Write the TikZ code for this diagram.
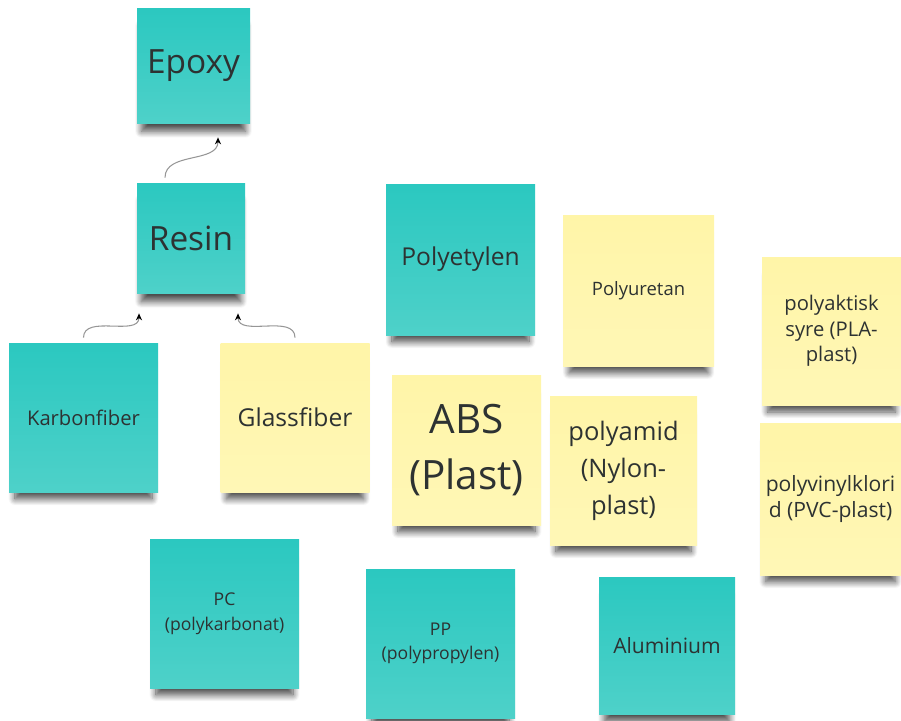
\documentclass[tikz,border=0pt]{standalone}
\usepackage{fontspec}
\setmainfont{Open Sans}
\usetikzlibrary{arrows.meta, positioning, shadows.blur}
\definecolor{noteteal}{RGB}{43,200,192}
\definecolor{notetealbot}{RGB}{78,209,201}
\definecolor{noteyellow}{RGB}{255,245,168}
\definecolor{noteyellowbot}{RGB}{255,247,182}
\definecolor{notetext}{RGB}{45,50,50}
\definecolor{linkgray}{RGB}{150,150,150}

\begin{document}
\begin{tikzpicture}[
    >=Stealth,
    note/.style={minimum width=2.98cm, minimum height=2.98cm, inner sep=2pt,
        align=center, text=notetext,
        blur shadow={shadow xshift=0pt, shadow yshift=-8pt, shadow scale=0.92,
            shadow blur radius=4pt, shadow opacity=70, shadow blur steps=12}},
    tealnote/.style={note, top color=noteteal, bottom color=notetealbot},
    yellownote/.style={note, top color=noteyellow, bottom color=noteyellowbot},
    link/.style={draw=linkgray, line width=0.6pt,
        -{Stealth[length=4pt, width=3.5pt, color=black]}}
]

% ============================================================
% Page frame
% ============================================================
\useasboundingbox (0,0) rectangle (18.02,-14.4);

% ============================================================
% Resin branch
% ============================================================
\node[tealnote, minimum width=2.26cm, minimum height=2.30cm,
      font=\fontsize{19}{24}\selectfont] (epoxy) at (3.87,-1.31) {Epoxy};
\node[tealnote, minimum width=2.16cm, minimum height=2.20cm,
      font=\fontsize{19}{24}\selectfont] (resin) at (3.82,-4.76) {Resin};
\node[tealnote, font=\fontsize{11.5}{15}\selectfont] (karbon) at (1.67,-8.35) {Karbonfiber};
\node[yellownote, font=\fontsize{14}{18}\selectfont] (glass) at (5.90,-8.35) {Glassfiber};

% Links
\draw[link] ([xshift=-0.52cm, yshift=0.10cm]resin.north)
    to[out=90, in=-90] ([xshift=0.49cm, yshift=-0.28cm]epoxy.south);
\draw[link] ([yshift=0.10cm]karbon.north)
    to[out=90, in=-90] ([xshift=-1.04cm, yshift=-0.40cm]resin.south);
\draw[link] ([yshift=0.10cm]glass.north)
    to[out=90, in=-90] ([xshift=0.94cm, yshift=-0.40cm]resin.south);

% ============================================================
% Plastics
% ============================================================
\node[tealnote, minimum height=3.02cm, font=\fontsize{14}{18}\selectfont]
    (polyetylen) at (9.21,-5.19) {Polyetylen};
\node[yellownote, minimum width=3.02cm, minimum height=3.02cm,
      font=\fontsize{10.5}{14}\selectfont] (polyuretan) at (12.77,-5.81) {Polyuretan};
\node[yellownote, minimum width=2.78cm, minimum height=2.96cm,
      font=\fontsize{11.5}{14.5}\selectfont] (pla) at (16.63,-6.62)
    {polyaktisk\\syre (PLA-\\plast)};
\node[yellownote, minimum width=2.82cm, minimum height=3.04cm,
      font=\fontsize{12}{14.8}\selectfont] (pvc) at (16.61,-9.98)
    {polyvinylklori\\d (PVC-plast)};
\node[yellownote, minimum height=3.00cm, font=\fontsize{23}{32}\selectfont]
    (abs) at (9.33,-9.00) {ABS\\(Plast)};
\node[yellownote, minimum width=2.94cm, font=\fontsize{14.5}{21}\selectfont]
    (polyamid) at (12.47,-9.41) {polyamid\\(Nylon-\\plast)};

% ============================================================
% Bottom row
% ============================================================
\node[tealnote, font=\fontsize{10}{14}\selectfont] (pc) at (4.49,-12.27)
    {PC\\(polykarbonat)};
\node[tealnote, font=\fontsize{10}{14}\selectfont] (pp) at (8.81,-12.87)
    {PP\\(polypropylen)};
\node[tealnote, minimum width=2.72cm, minimum height=2.74cm,
      font=\fontsize{12}{15}\selectfont] (alu) at (13.34,-12.91) {Aluminium};

\end{tikzpicture}
\end{document}
